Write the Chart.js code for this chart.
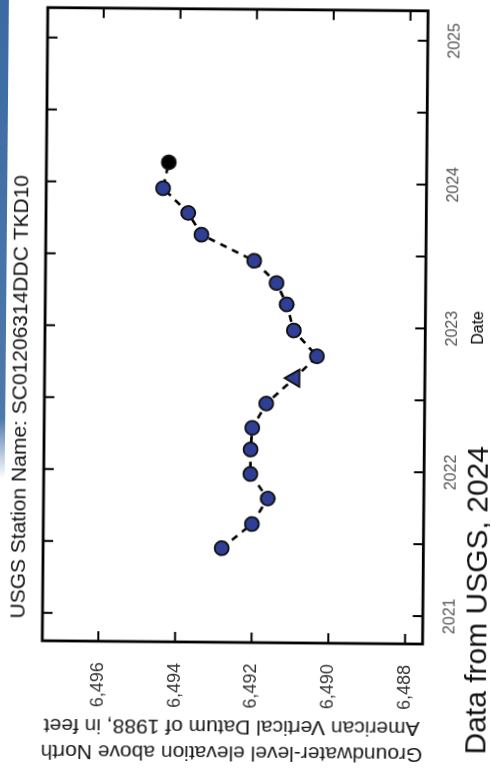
<!DOCTYPE html>
<html>
<head>
<meta charset="utf-8">
<script src="https://cdn.jsdelivr.net/npm/chart.js@4.4.1/dist/chart.umd.min.js"></script>
<style>
  html, body { margin: 0; padding: 0; background: #fff; width: 491px; height: 772px; overflow: hidden; }
  #rot { position: absolute; left: -140.5px; top: 140.5px; width: 772px; height: 491px;
         transform: rotate(-89.5deg); transform-origin: 50% 50%; background: #fff; }
  #strip { position: absolute; left: 292px; top: -9px; width: 500px; height: 14px;
           background: linear-gradient(to right, rgba(58,106,162,0), rgba(58,106,162,0.9) 12%, #3a6aa2); }
  canvas { position: absolute; left: 0; top: 0; }
</style>
</head>
<body>
<div id="rot">
  <div id="strip"></div>
  <canvas id="c" width="772" height="491"></canvas>
</div>
<script>
// ---- data ----
const sampleDates = [
  '2021-06-18', '2021-08-19', '2021-10-23', '2021-12-24',
  '2022-02-24', '2022-04-20', '2022-06-21', '2022-08-25',
  '2022-10-20', '2022-12-24', '2023-02-28', '2023-04-23',
  '2023-06-18', '2023-08-22', '2023-10-16', '2023-12-17',
  '2024-02-21'
];
const waterLevels = [
  6492.80, 6492.02, 6491.61, 6492.07,
  6492.07, 6492.03, 6491.67, 6490.94,
  6490.36, 6490.97, 6491.16, 6491.43,
  6492.02, 6493.40, 6493.75, 6494.41,
  6494.27
];
const measurementKind = [
  'periodic', 'periodic', 'periodic', 'periodic',
  'periodic', 'periodic', 'periodic', 'other',
  'periodic', 'periodic', 'periodic', 'periodic',
  'periodic', 'periodic', 'periodic', 'periodic',
  'latest'
];
const yearTicks = [2021, 2022, 2023, 2024, 2025];
const yearTickLabels = ['2021', '2022', '2023', '2024', '2025'];
const elevationTicks = [6488, 6490, 6492, 6494, 6496];
const elevationTickLabels = ['6,488', '6,490', '6,492', '6,494', '6,496'];

const chartTitle = 'USGS Station Name: SC01206314DDC TKD10';
const sourceNote = 'Data from USGS, 2024';
const xAxisTitle = 'Date';
const yAxisTitle = ['Groundwater-level elevation above North', 'American Vertical Datum of 1988, in feet'];

// ---- helpers ----
function toDecimalYear(s) {
  const [y, m, d] = s.split('-').map(Number);
  const start = Date.UTC(y, 0, 1), end = Date.UTC(y + 1, 0, 1);
  return y + (Date.UTC(y, m - 1, d) - start) / (end - start);
}
const points = sampleDates.map((d, i) => ({ x: toDecimalYear(d), y: waterLevels[i] }));
const dateTickValues = [];
yearTicks.forEach((y, i) => { dateTickValues.push(y); if (i < yearTicks.length - 1) dateTickValues.push(y + 0.5); });

const FONT = "'Liberation Sans', Arial, Helvetica, sans-serif";
const NARROW = "'Liberation Sans Narrow', 'Arial Narrow', 'Liberation Sans', sans-serif";

const framePlugin = {
  id: 'frameTicks',
  beforeDatasetsDraw(chart) {
    const { ctx, chartArea: a, scales } = chart;
    ctx.save();
    ctx.strokeStyle = '#000';
    ctx.lineWidth = 2;
    const L = 10;
    scales.x.ticks.forEach(t => {
      const px = scales.x.getPixelForValue(t.value);
      ctx.beginPath();
      ctx.moveTo(px, a.bottom); ctx.lineTo(px, a.bottom - L);
      ctx.moveTo(px, a.top); ctx.lineTo(px, a.top + L);
      ctx.stroke();
    });
    scales.y.ticks.forEach(t => {
      const py = scales.y.getPixelForValue(t.value);
      ctx.beginPath();
      ctx.moveTo(a.left, py); ctx.lineTo(a.left + L, py);
      ctx.moveTo(a.right, py); ctx.lineTo(a.right - L, py);
      ctx.stroke();
    });
    ctx.lineWidth = 2.8;
    ctx.strokeRect(a.left, a.top, a.right - a.left, a.bottom - a.top);
    ctx.restore();
  },
  afterDraw(chart) {
    const { ctx } = chart;
    ctx.save();
    ctx.fillStyle = '#111';
    ctx.textBaseline = 'alphabetic';
    ctx.textAlign = 'left';
    ctx.font = '21px ' + FONT;
    ctx.fillText(chartTitle, 152, 26);
    ctx.font = '30px ' + FONT;
    ctx.fillText(sourceNote, 20, 488);
    ctx.restore();
  }
};

new Chart(document.getElementById('c'), {
  type: 'line',
  data: {
    datasets: [{
      data: points,
      borderColor: '#000',
      borderWidth: 2.6,
      borderDash: [7, 6],
      tension: 0,
      fill: false,
      pointStyle: ctx => measurementKind[ctx.dataIndex] === 'other' ? 'triangle' : 'circle',
      pointRadius: ctx => measurementKind[ctx.dataIndex] === 'other' ? 10 : 7,
      pointBackgroundColor: ctx => measurementKind[ctx.dataIndex] === 'latest' ? '#000' : '#2f3f95',
      pointBorderColor: '#111',
      pointBorderWidth: 1.8
    }]
  },
  options: {
    responsive: false,
    animation: false,
    events: [],
    layout: { padding: { top: 44, right: 7, left: 0, bottom: 0 } },
    plugins: { legend: { display: false }, tooltip: { enabled: false }, title: { display: false } },
    scales: {
      x: {
        type: 'linear',
        min: 2020.806, max: 2025.208,
        afterBuildTicks: s => { s.ticks = dateTickValues.map(v => ({ value: v })); },
        afterFit: s => { s.height = 66.7; },
        grid: { display: false, drawTicks: false },
        border: { display: false },
        ticks: {
          autoSkip: false, maxRotation: 0, minRotation: 0, padding: 18,
          color: '#555', font: { family: NARROW, size: 16 },
          callback: v => { const i = yearTicks.indexOf(v); return i >= 0 ? yearTickLabels[i] : ''; }
        },
        title: { display: true, text: xAxisTitle, color: '#000', font: { family: FONT, size: 16 }, padding: { top: 0, bottom: 4 } }
      },
      y: {
        type: 'linear',
        min: 6487.54, max: 6497.46,
        afterBuildTicks: s => { s.ticks = elevationTicks.map(v => ({ value: v })); },
        afterFit: s => { s.width = 130; },
        grid: { display: false, drawTicks: false },
        border: { display: false },
        ticks: {
          padding: 21, color: '#333', font: { family: FONT, size: 18 },
          callback: v => { const i = elevationTicks.indexOf(v); return i >= 0 ? elevationTickLabels[i] : ''; }
        },
        title: { display: true, text: yAxisTitle, color: '#1a1a1a', font: { family: FONT, size: 21, lineHeight: 1.24 }, padding: { top: 7, bottom: 0 } }
      }
    }
  },
  plugins: [framePlugin]
});
</script>
</body>
</html>
